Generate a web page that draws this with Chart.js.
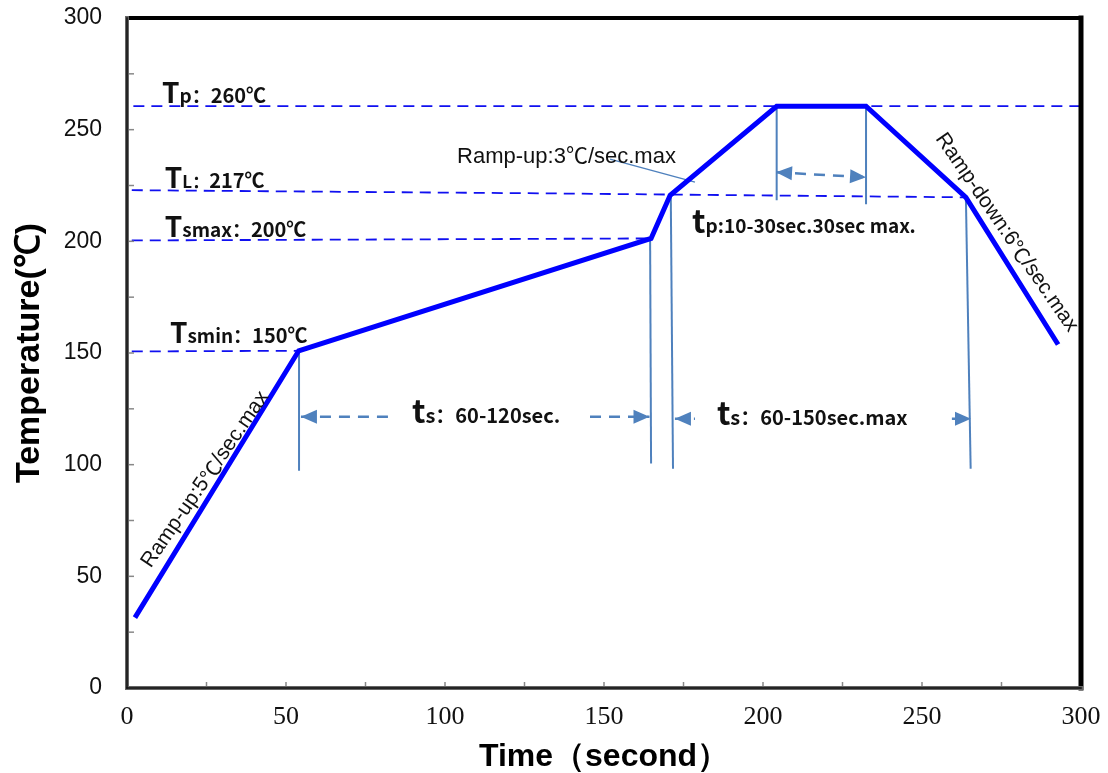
<!DOCTYPE html>
<html lang="en">
<head>
<meta charset="UTF-8">
<title>Reflow Profile</title>
<script src="https://cdn.jsdelivr.net/npm/chart.js"></script>
<style>
    body { margin: 0; background: #fff; }
    canvas { display: block; }
</style>
</head>
<body>
<canvas id="perfil" width="1108" height="773"></canvas>
<script>
// reflow profile: time (s) / temperature (℃)
const profileTime = [2.5, 54, 164.8, 170.8, 204.3, 232.4, 263.8, 292.8];
const profileTemp = [31.5, 151, 201.3, 220.6, 260.5, 260.5, 219.7, 153.8];

// dashed level lines
const tpTime = [2, 300];
const tpTemp = [260.5, 260.5];
const tlTime = [1.5, 130, 263.8];
const tlTemp = [222.9, 221.5, 219.7];
const tsmaxTime = [1.5, 164.8];
const tsmaxTemp = [200.4, 201.3];
const tsminTime = [1.5, 54];
const tsminTemp = [150.7, 151];

// vertical marker lines (top -> bottom)
const markerTime = [[54.1, 54.1], [164.5, 164.8], [171, 171.7], [204.3, 204.3], [232.4, 232.4], [263.8, 265.3]];
const markerTemp = [[151, 97.3], [201, 100.5], [220.6, 98.2], [260.5, 218.4], [260.5, 216.6], [219.7, 98.2]];

// dimension arrows
const arrowTime = [[54.7, 82.7], [145.6, 164.3], [172.3, 178.6], [259.4, 265.4], [204.1, 232.4]];
const arrowTemp = [[121.5, 121.5], [121.5, 121.5], [120.6, 120.6], [120.6, 120.6], [230.9, 228.7]];
const arrowEnds = [[true, false], [false, true], [true, false], [false, true], [true, true]];

// leader line for the 3℃/sec note
const leaderTime = [151.9, 178.6];
const leaderTemp = [236.8, 226.5];

const xTicks = [0, 50, 100, 150, 200, 250, 300];
const yTicks = [0, 50, 100, 150, 200, 250, 300];

const pts = (xs, ys) => xs.map((x, i) => ({ x: x, y: ys[i] }));

const azul = '#0000FF';
const aco = '#4F81BD';

const datasets = [];
datasets.push({ data: pts(profileTime, profileTemp), borderColor: azul, borderWidth: 5, order: 0 });
[[tpTime, tpTemp], [tlTime, tlTemp], [tsmaxTime, tsmaxTemp], [tsminTime, tsminTemp]].forEach(([xs, ys]) => {
    datasets.push({ data: pts(xs, ys), borderColor: '#1010F0', borderWidth: 1.8, borderDash: [11, 7], order: 2 });
});
markerTime.forEach((xs, i) => {
    datasets.push({ data: pts(xs, markerTemp[i]), borderColor: aco, borderWidth: 2, order: 1 });
});
arrowTime.forEach((xs, i) => {
    datasets.push({ data: pts(xs, arrowTemp[i]), borderColor: aco, borderWidth: 2.5, borderDash: [11, 8],
        arrowStart: arrowEnds[i][0], arrowEnd: arrowEnds[i][1], order: 1 });
});
datasets.push({ data: pts(leaderTime, leaderTemp), borderColor: aco, borderWidth: 1.5, order: 1 });

// text notes (data coords)
const cjk = '"Noto Sans CJK SC", sans-serif';
const arial = '"Liberation Sans", Arial, sans-serif';
const B = 'bold ';
const notas = [
    { x: 11, y: 261.9, parts: [['T', B + '28px ' + cjk], ['p：', B + '19px ' + cjk], ['260℃', B + '20px ' + cjk]] },
    { x: 11.9, y: 223.8, parts: [['T', B + '28px ' + cjk], ['L：', B + '17px ' + cjk], ['217℃', B + '20px ' + cjk]] },
    { x: 11.9, y: 201.8, parts: [['T', B + '28px ' + cjk], ['smax：', B + '19px ' + cjk], ['200℃', B + '20px ' + cjk]] },
    { x: 13.5, y: 154.7, parts: [['T', B + '28px ' + cjk], ['smin：', B + '19px ' + cjk], ['150℃', B + '20px ' + cjk]] },
    { x: 89.6, y: 118.8, parts: [['t', B + '32px ' + cjk], ['s：', B + '20px ' + cjk], ['60-120sec.', B + '20px ' + cjk]] },
    { x: 185.5, y: 117.9, parts: [['t', B + '32px ' + cjk], ['s：', B + '20px ' + cjk], ['60-150sec.max', B + '20px ' + cjk]] },
    { x: 177.7, y: 203.6, parts: [['t', B + '32px ' + cjk], ['p:10-30sec.30sec max.', B + '19px ' + cjk]] },
    { x: 103.8, y: 235.0, parts: [['Ramp-up:3', '22px ' + arial], ['℃', '22px ' + cjk], ['/sec.max', '22px ' + arial]] },
    { x: 24.6, y: 93.4, ang: -55.5, parts: [['Ramp-up:5', '21px ' + arial], ['℃', '21px ' + cjk], ['/sec.max', '21px ' + arial]] },
    { x: 276.6, y: 204, ang: 55.5, parts: [['Ramp-down:6', '21px ' + arial], ['℃', '21px ' + cjk], ['/sec.max', '21px ' + arial]] }
];

const extras = {
    id: 'extras',
    afterDatasetsDraw(chart) {
        const ctx = chart.ctx;
        const xs = chart.scales.x, ys = chart.scales.y;
        // arrow heads
        chart.data.datasets.forEach((ds, i) => {
            if (!ds.arrowStart && !ds.arrowEnd) return;
            const p = chart.getDatasetMeta(i).data;
            const head = (tip, from) => {
                const a = Math.atan2(tip.y - from.y, tip.x - from.x);
                ctx.save();
                ctx.translate(tip.x, tip.y);
                ctx.rotate(a);
                ctx.beginPath();
                ctx.moveTo(0, 0);
                ctx.lineTo(-16, -7);
                ctx.lineTo(-16, 7);
                ctx.closePath();
                ctx.fillStyle = aco;
                ctx.fill();
                ctx.restore();
            };
            if (ds.arrowStart) head(p[0], p[p.length - 1]);
            if (ds.arrowEnd) head(p[p.length - 1], p[0]);
        });
        // notes
        ctx.save();
        ctx.fillStyle = '#111';
        ctx.textAlign = 'left';
        notas.forEach(n => {
            ctx.save();
            ctx.translate(xs.getPixelForValue(n.x), ys.getPixelForValue(n.y));
            let px = 0;
            if (n.ang) {
                ctx.rotate(n.ang * Math.PI / 180);
                ctx.textBaseline = 'middle';
                let w = 0;
                n.parts.forEach(([t, f]) => { ctx.font = f; w += ctx.measureText(t).width; });
                px = -w / 2;
            } else {
                ctx.textBaseline = 'alphabetic';
            }
            n.parts.forEach(([t, f]) => {
                ctx.font = f;
                ctx.fillText(t, px, 0);
                px += ctx.measureText(t).width;
            });
            ctx.restore();
        });
        ctx.restore();
    },
    afterDraw(chart) {
        const ctx = chart.ctx;
        const a = chart.chartArea;
        const xs = chart.scales.x, ys = chart.scales.y;
        ctx.save();
        // inner minor ticks
        ctx.strokeStyle = '#888';
        ctx.lineWidth = 1.5;
        for (let v = 25; v < 300; v += 25) {
            const y = ys.getPixelForValue(v);
            ctx.beginPath(); ctx.moveTo(a.left, y); ctx.lineTo(a.left + 7, y); ctx.stroke();
            const x = xs.getPixelForValue(v);
            ctx.beginPath(); ctx.moveTo(x, a.bottom); ctx.lineTo(x, a.bottom - 6); ctx.stroke();
        }
        // frame
        ctx.lineCap = 'square';
        ctx.strokeStyle = '#000';
        ctx.lineWidth = 4;
        ctx.beginPath(); ctx.moveTo(a.left, a.top); ctx.lineTo(a.right, a.top); ctx.stroke();
        ctx.lineWidth = 5;
        ctx.beginPath(); ctx.moveTo(a.right, a.top); ctx.lineTo(a.right, a.bottom); ctx.stroke();
        ctx.strokeStyle = '#666';
        ctx.lineWidth = 4;
        ctx.beginPath(); ctx.moveTo(a.left, a.top); ctx.lineTo(a.left, a.bottom); ctx.stroke();
        ctx.beginPath(); ctx.moveTo(a.left, a.bottom); ctx.lineTo(a.right, a.bottom); ctx.stroke();
        ctx.strokeStyle = '#111';
        ctx.lineWidth = 1.5;
        ctx.beginPath(); ctx.moveTo(a.left, a.top); ctx.lineTo(a.left, a.bottom); ctx.stroke();
        ctx.beginPath(); ctx.moveTo(a.left, a.bottom); ctx.lineTo(a.right, a.bottom); ctx.stroke();
        ctx.restore();
    }
};

new Chart(document.getElementById('perfil'), {
    type: 'scatter',
    data: { datasets: datasets },
    options: {
        responsive: false,
        animation: false,
        showLine: true,
        elements: { point: { radius: 0, hoverRadius: 0 }, line: { tension: 0 } },
        layout: { padding: { top: 18, right: 27, left: 0, bottom: 0 } },
        plugins: { legend: { display: false }, tooltip: { enabled: false } },
        scales: {
            x: {
                type: 'linear', min: 0, max: 300,
                afterFit: s => { s.height = 85; },
                afterBuildTicks: s => { s.ticks = xTicks.map(v => ({ value: v })); },
                grid: { display: false, drawTicks: true, tickLength: 12 },
                border: { display: false },
                ticks: { padding: 2, color: '#111', font: { family: '"Liberation Serif", serif', size: 26 } },
                title: {
                    display: true, text: 'Time（second）', color: '#000',
                    font: { family: arial, size: 32, weight: 'bold', lineHeight: 1 },
                    padding: { top: 0, bottom: 0 }
                }
            },
            y: {
                type: 'linear', min: 0, max: 300,
                afterFit: s => { s.width = 127; },
                afterBuildTicks: s => { s.ticks = yTicks.map(v => ({ value: v })); },
                grid: { display: false, drawTicks: true, tickLength: 22 },
                border: { display: false },
                ticks: { padding: 3, color: '#111', font: { family: arial, size: 23 } },
                title: {
                    display: true, text: 'Temperature(℃)', color: '#000',
                    font: { family: arial, size: 34, weight: 'bold', lineHeight: 1 },
                    padding: { top: 13, bottom: 0 }
                }
            }
        }
    },
    plugins: [extras]
});
</script>
</body>
</html>
